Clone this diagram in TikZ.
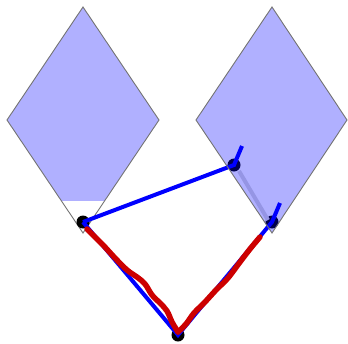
\documentclass[tikz,border=0pt]{standalone}
\usetikzlibrary{calc}
\tikzset{
  plate/.style={draw=black!55, line width=0.9pt, fill=blue, fill opacity=0.31},
  link/.style={blue, line width=4pt},
  trace/.style={red!80!black, line width=5.5pt, line cap=round, line join=round},
  joint/.style={circle, fill=black, inner sep=0pt, minimum size=13pt}
}
\begin{document}
\begin{tikzpicture}[x=1pt, y=-1pt]
                \useasboundingbox (0,0) rectangle (348,343);
                % left plate, fill cut off at the bottom
                \begin{scope}
                    \clip (0,0) rectangle (348,200);
                    \fill[blue, fill opacity=0.31] (83,7) -- (159,120) -- (83,233) -- (7,120) -- cycle;
                \end{scope}
                \draw[draw=black!55, line width=0.9pt] (83,7) -- (159,120) -- (83,233) -- (7,120) -- cycle;
                % joints
                \coordinate (base) at (83,222);
                \coordinate (elbow) at (234,165);
                \coordinate (foot) at (272,222);
                \coordinate (tip) at (178,335);
                \node[joint] (jb) at (base) {};
                \node[joint] (je) at (elbow) {};
                \node[joint] (jf) at (foot) {};
                \node[joint] (jt) at (tip) {};
                \draw[link] (jb.center) -- (je.center) -- (242,146);
                \draw[link] (jb.center) -- (jt.center) -- (jf.center) -- (280,203);
                % right plate, drawn over its joints
                \draw[black!15, line width=4pt] (239,171) -- (268,220);
                \draw[plate] (272,7) -- (347,120) -- (272,233) -- (196,120) -- cycle;
                % measured path
                \draw[trace] plot[smooth, tension=0.6] coordinates {
                    (87,229) (96,238) (104,246) (115,258) (127,270) (137,277)
                    (145,284) (152,295) (160,303) (167,311) (172,322) (178,332)};
                \draw[trace] plot[smooth, tension=0.5] coordinates {
                    (178,332) (186,324) (194,313) (205,302) (216,290) (228,278)
                    (240,262) (250,249) (260,237)};
            \end{tikzpicture}
\end{document}
